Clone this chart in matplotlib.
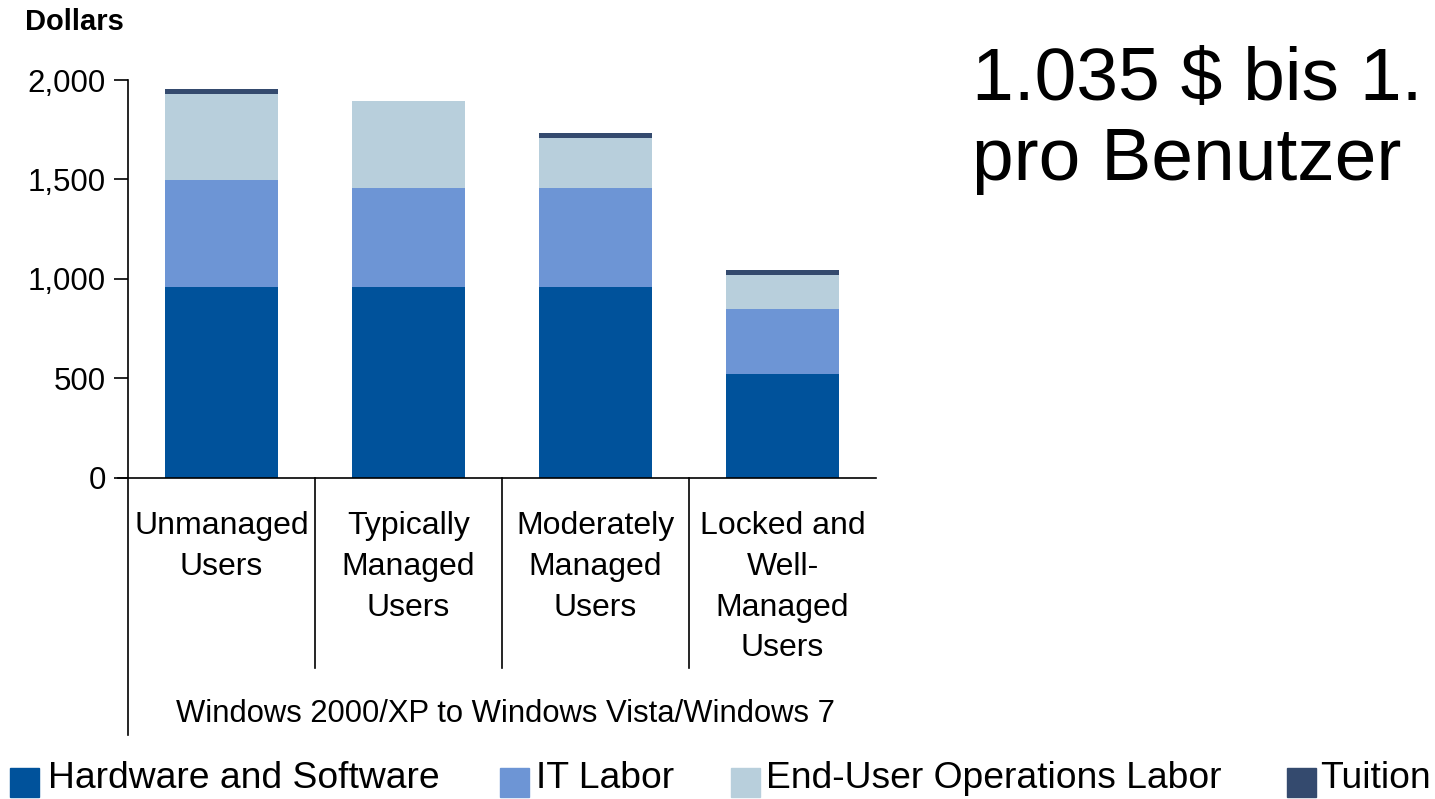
import matplotlib.pyplot as plt
from matplotlib.patches import Rectangle
from matplotlib.lines import Line2D

plt.rcParams["font.family"] = ["Liberation Sans", "DejaVu Sans"]

# ---------------------------------------------------------------------------
# data
# ---------------------------------------------------------------------------
categories = [
    "Unmanaged\nUsers",
    "Typically\nManaged\nUsers",
    "Moderately\nManaged\nUsers",
    "Locked and\nWell-\nManaged\nUsers",
]
hardware_software = [960, 960, 960, 523]
it_labor = [537, 497, 497, 326]
end_user_ops = [433, 437, 252, 171]
tuition = [25, 0, 25, 25]

series_names = ["Hardware and Software", "IT Labor",
                "End-User Operations Labor", "Tuition"]
colors = ["#00529B", "#6D95D5", "#B8CFDC", "#344A6E"]
y_ticks = [0, 500, 1000, 1500, 2000]

W, H = 1435, 799
fig = plt.figure(figsize=(W / 100, H / 100), dpi=100)


def fx(px):
    return px / W


def fy(py):
    return 1 - py / H


ax = fig.add_axes([fx(128), fy(478), fx(876) - fx(128), fy(80) - fy(478)])

bottom = [0] * len(categories)
for vals, name, col in zip([hardware_software, it_labor, end_user_ops, tuition],
                           series_names, colors):
    ax.bar(range(len(categories)), vals, bottom=bottom, width=0.6,
           color=col, edgecolor="none", label=name)
    bottom = [b + v for b, v in zip(bottom, vals)]

ax.set_xlim(-0.5, len(categories) - 0.5)
ax.set_ylim(0, 2000)
ax.set_yticks(y_ticks)
ax.set_yticklabels([f"{v:,}" for v in y_ticks], fontsize=22.5)
ax.tick_params(axis="y", direction="out", length=10, width=1.2, pad=6)
ax.set_xticks([])
for s in ["top", "right", "bottom", "left"]:
    ax.spines[s].set_visible(False)

# axis lines
ax.add_line(Line2D([0, 0], [1, -0.646], transform=ax.transAxes,
                   color="black", lw=1.2, clip_on=False))
ax.add_line(Line2D([-0.013, 1], [0, 0], transform=ax.transAxes,
                   color="black", lw=1.2, clip_on=False))
trans = ax.get_xaxis_transform()
for xb in [0.5, 1.5, 2.5]:
    ax.add_line(Line2D([xb, xb], [0, -0.477], transform=trans,
                       color="black", lw=1.2, clip_on=False))

# category labels
for i, cat in enumerate(categories):
    ax.text(i, -0.083, cat, transform=trans, ha="center", va="top",
            fontsize=23, linespacing=1.47)

fig.text(fx(505), fy(714), "Windows 2000/XP to Windows Vista/Windows 7",
         ha="center", va="center", fontsize=22.3)
fig.text(fx(25), fy(22), "Dollars", ha="left", va="center",
         fontsize=21, fontweight="bold")

# big annotation (cut at the right edge)
fig.text(fx(972), fy(100), "1.035 $ bis 1.", ha="left", va="baseline",
         fontsize=54)
fig.text(fx(972), fy(180), "pro Benutzer", ha="left", va="baseline",
         fontsize=54)

# legend
legend_x = [(10, 48), (500, 536), (731, 766), (1287, 1320)]
for (sx, tx), name, col in zip(legend_x, series_names, colors):
    fig.patches.append(Rectangle((fx(sx), fy(797)), fx(29), 29 / H,
                                 transform=fig.transFigure, color=col))
    fig.text(fx(tx), fy(779), name, ha="left", va="center", fontsize=26.8)

fig.savefig("out.png", dpi=100)
